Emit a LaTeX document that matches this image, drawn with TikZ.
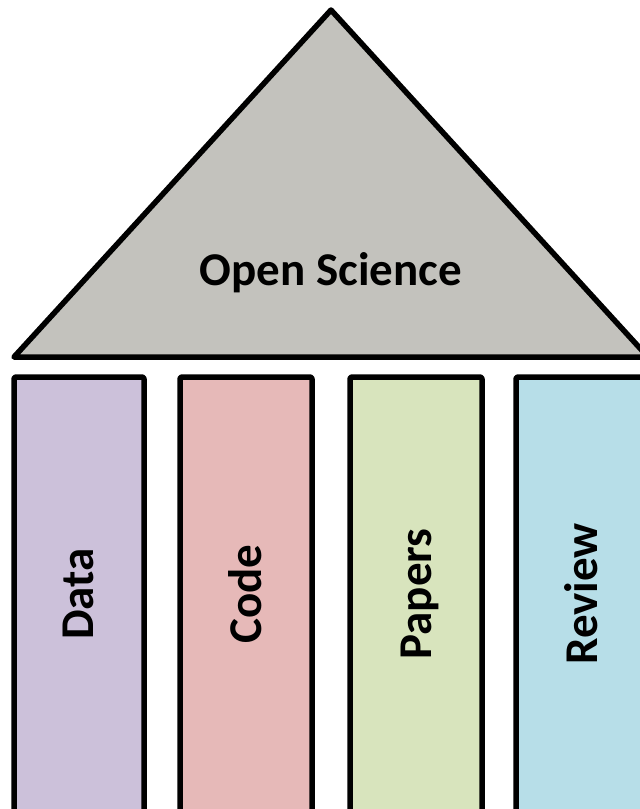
\documentclass[tikz,border=0pt]{standalone}
\usepackage{fontspec}
\setmainfont{Carlito}
\definecolor{roofgray}{HTML}{C3C2BD}
\definecolor{datacol}{HTML}{CCC1DA}
\definecolor{codecol}{HTML}{E6B9B8}
\definecolor{papercol}{HTML}{D8E4BD}
\definecolor{reviewcol}{HTML}{B7DEE8}
\tikzset{
  outline/.style={draw=black, line width=5.5pt, line join=round},
  pillar/.style={outline, rounded corners=2pt},
  bigtext/.style={font=\fontsize{47}{50}\selectfont\bfseries, inner sep=0pt, anchor=base},
  pillarlabel/.style={bigtext, rotate=90},
}
\begin{document}
\begin{tikzpicture}[x=1pt, y=-1pt]
  \useasboundingbox (0,0) rectangle (640,809);
  \clip (0,0) rectangle (640,809);
  % roof
  \filldraw[outline, fill=roofgray] (14,357) -- (331,10) -- (648,357) -- cycle;
  \node[bigtext] (roof) at (331,285) {Open Science};
  % pillars
  \filldraw[pillar, fill=datacol]   (14,377) rectangle (144,830);
  \filldraw[pillar, fill=codecol]   (180,377) rectangle (312,830);
  \filldraw[pillar, fill=papercol]  (350,377) rectangle (482,830);
  \filldraw[pillar, fill=reviewcol] (516,377) rectangle (660,830);
  \node[pillarlabel] (data)   at (93,594)  {Data};
  \node[pillarlabel] (code)   at (261,594) {Code};
  \node[pillarlabel] (papers) at (431,594) {Papers};
  \node[pillarlabel] (review) at (597,594) {Review};
\end{tikzpicture}
\end{document}
